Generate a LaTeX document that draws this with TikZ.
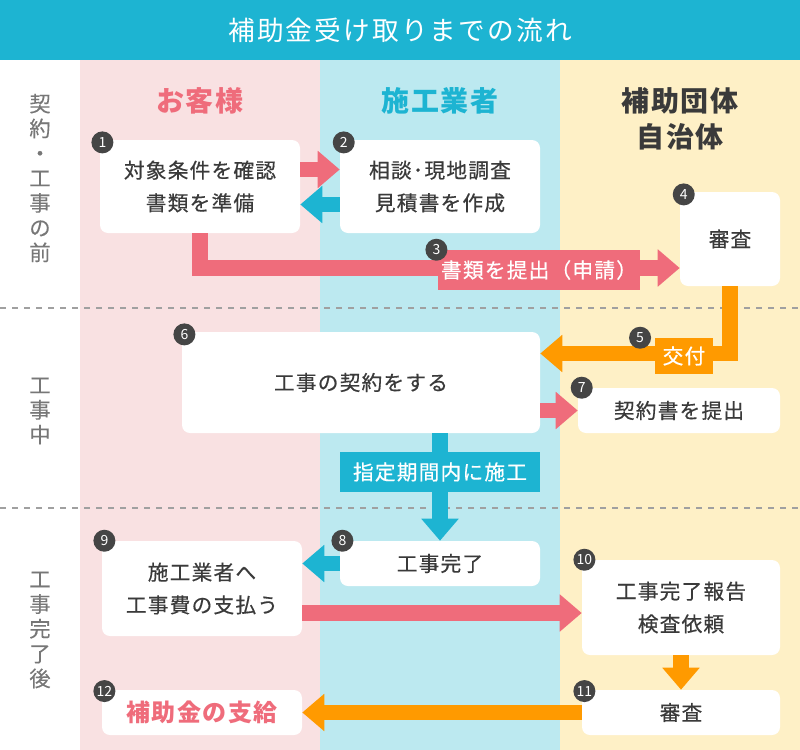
\documentclass[tikz,border=0pt]{standalone}
\usepackage{fontspec}
\setmainfont{Noto Sans CJK JP}
\usetikzlibrary{positioning,arrows.meta,calc}
\definecolor{HJBlue}{HTML}{1DB4D2}
\definecolor{HJPink}{HTML}{EF6C7B}
\definecolor{HJOrange}{HTML}{FF9A00}
\definecolor{HJPinkBg}{HTML}{F9E1E2}
\definecolor{HJBlueBg}{HTML}{BCE9F0}
\definecolor{HJYellowBg}{HTML}{FEF0C6}
\definecolor{HJText}{HTML}{3A3A3A}
\definecolor{HJGray}{HTML}{777777}
\definecolor{HJBadge}{HTML}{454545}

\begin{document}
\begin{tikzpicture}[x=0.75pt,y=-0.75pt,
  box/.style={fill=white, rounded corners=6pt, inner sep=0pt, align=center, text=HJText,
    font=\fontsize{15.5pt}{24.5pt}\selectfont\addfontfeatures{LetterSpace=6,FakeBold=0.5}},
  badge/.style={circle, fill=HJBadge, text=white, minimum size=16.5pt, inner sep=0pt,
    font=\fontsize{10.5pt}{10.5pt}\selectfont},
  flow/.style={line width=11.5pt, -{Triangle[length=16.5pt,width=27pt]}},
  tag/.style={inner sep=0pt, text=white, minimum height=30pt,
    font=\fontsize{15.5pt}{18pt}\selectfont\addfontfeatures{LetterSpace=6,FakeBold=0.5}},
  rowlabel/.style={align=center, text=HJGray, inner sep=0pt,
    font=\fontsize{16pt}{18.6pt}\selectfont\addfontfeatures{FakeBold=0.2}},
  header/.style={align=center, inner sep=0pt,
    font=\fontsize{21pt}{27pt}\selectfont\bfseries\addfontfeatures{LetterSpace=6}}]
  \useasboundingbox (0,0) rectangle (800,750);
  % lanes and title band
  \fill[HJPinkBg] (80,60) rectangle (320,750);
  \fill[HJBlueBg] (320,60) rectangle (560,750);
  \fill[HJYellowBg] (560,60) rectangle (800,750);
  \fill[HJBlue] (0,0) rectangle (800,60);
  \node[text=white, font=\fontsize{20pt}{24pt}\selectfont\addfontfeatures{LetterSpace=8}] (title) at (400,30) {補助金受け取りまでの流れ};
  \draw[HJGray!70, line width=1.1pt, dash pattern=on 4.5pt off 4.5pt] (0,308) -- (800,308);
  \draw[HJGray!70, line width=1.1pt, dash pattern=on 4.5pt off 4.5pt] (0,508) -- (800,508);
  % phases
  \node[rowlabel] (r1) at (40,178) {契\\約\\・\\工\\事\\の\\前};
  \node[rowlabel] (r2) at (40,411) {工\\事\\中};
  \node[rowlabel] (r3) at (40,630) {工\\事\\完\\了\\後};
  % lanes
  \node[header, text=HJPink] (h1) at (200,101) {お客様};
  \node[header, text=HJBlue] (h2) at (440,101) {施工業者};
  \node[header, text=HJText] (h3) at (680,119) {補助団体\\自治体};
  % steps
  \node[box, minimum width=150pt, minimum height=69.75pt] (b1) at (200,186.5) {対象条件を確認\\書類を準備};
  \node[box, minimum width=150pt, minimum height=69.75pt] (b2) at (440,186.5) {相談･現地調査\\見積書を作成};
  \node[box, minimum width=75pt, minimum height=70.5pt] (b4) at (730,239) {審査};
  \node[box, minimum width=268.5pt, minimum height=75.75pt] (b6) at (361,382.5) {工事の契約をする};
  \node[box, minimum width=151.5pt, minimum height=33.75pt] (b7) at (679,410.5) {契約書を提出};
  \node[box, minimum width=150pt, minimum height=33.75pt] (b8) at (440,563.5) {工事完了};
  \node[box, minimum width=150pt, minimum height=71.25pt] (b9) at (202,588.5) {施工業者へ\\工事費の支払う};
  \node[box, minimum width=148.5pt, minimum height=71.25pt] (b10) at (681,607.5) {工事完了報告\\検査依頼};
  \node[box, minimum width=148.5pt, minimum height=33.75pt] (b11) at (681,712.5) {審査};
  \node[box, minimum width=150pt, minimum height=33.75pt, text=HJPink,
    font=\fontsize{18pt}{20pt}\selectfont\bfseries\addfontfeatures{LetterSpace=6}] (b12) at (202,712.5) {補助金の支給};
  % flows
  \draw[flow, HJPink] ($(b1.east)+(0,-17)$) -- ($(b2.west)+(0,-17)$);
  \draw[flow, HJBlue] ($(b2.west)+(0,18)$) -- ($(b1.east)+(0,18)$);
  \draw[flow, HJPink] (b1.south) |- ($(b4.west)+(0,29)$);
  \draw[flow, HJOrange] (b4.south) |- ($(b6.east)+(0,-29)$);
  \draw[flow, HJPink] (b6.east |- b7.west) -- (b7.west);
  \draw[flow, HJBlue] (b8.north |- b6.south) -- (b8.north);
  \draw[flow, HJBlue] (b8.west) -- (b9.east |- b8.west);
  \draw[flow, HJPink] ($(b9.east)+(0,24.5)$) -- ($(b10.west)+(0,5.5)$);
  \draw[flow, HJOrange] (b10.south) -- (b11.north);
  \draw[flow, HJOrange] (b11.west) -- (b12.east);
  % flow labels
  \node[tag, fill=HJPink, minimum width=151.5pt] (t3) at (539,270) {書類を提出（申請）};
  \node[tag, fill=HJOrange, minimum width=43.5pt, minimum height=27pt] (t5) at (684,356) {交付};
  \node[tag, fill=HJBlue, minimum width=150pt] (t8) at (440,472) {指定期間内に施工};
  % numbers
  \node[badge] at ([shift={(2pt,-2pt)}]b1.north west) (n1) {1};
  \node[badge] at ([shift={(3pt,-2pt)}]b2.north west) (n2) {2};
  \node[badge] at ([shift={(-1pt,0pt)}]t3.north west) (n3) {3};
  \node[badge] at ([shift={(3pt,-2pt)}]b4.north west) (n4) {4};
  \node[badge] at ([shift={(-11pt,0pt)}]t5.north west) (n5) {5};
  \node[badge] at ([shift={(2pt,-2pt)}]b6.north west) (n6) {6};
  \node[badge] at ([shift={(3pt,0pt)}]b7.north west) (n7) {7};
  \node[badge] at ([shift={(2pt,0pt)}]b8.north west) (n8) {8};
  \node[badge] at ([shift={(2pt,0pt)}]b9.north west) (n9) {9};
  \node[badge] at ([shift={(2pt,0pt)}]b10.north west) (n10) {10};
  \node[badge] at ([shift={(2pt,-1pt)}]b11.north west) (n11) {11};
  \node[badge] at ([shift={(2pt,-1pt)}]b12.north west) (n12) {12};
\end{tikzpicture}
\end{document}
